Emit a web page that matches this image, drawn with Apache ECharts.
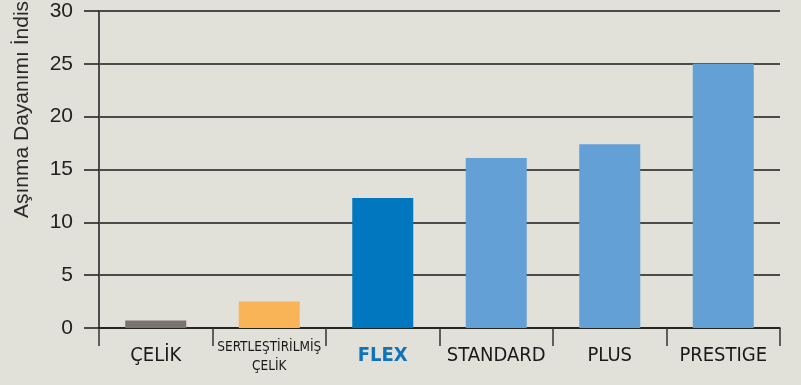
<!DOCTYPE html>
<html>
<head>
<meta charset="utf-8">
<script src="https://cdn.jsdelivr.net/npm/echarts@6/dist/echarts.min.js"></script>
<style>
  html, body { margin: 0; padding: 0; background: #e1e0d9; }
  #chart { width: 801px; height: 385px; }
</style>
</head>
<body>
<div id="chart"></div>
<script>
// ---- data ----
var categories = ['ÇELİK', 'SERTLEŞTİRİLMİŞ\nÇELİK', 'FLEX', 'STANDARD', 'PLUS', 'PRESTIGE'];
var values = [0.7, 2.5, 12.3, 16.1, 17.4, 25.0];
var barColors = ['#7b7370', '#fab458', '#0077bf', '#62a0d6', '#62a0d6', '#62a0d6'];
var yTicks = [0, 5, 10, 15, 20, 25, 30];
var yTitle = 'Aşınma Dayanımı İndisi';

var narrow = '"Liberation Sans Narrow", "DejaVu Sans Condensed", "Liberation Sans", sans-serif';
var regular = '"Liberation Sans", Arial, sans-serif';

var chart = echarts.init(document.getElementById('chart'), null, { renderer: 'canvas' });

var option = {
  backgroundColor: '#e1e0d9',
  animation: false,
  grid: { left: 99, right: 21, top: 11, bottom: 57, containLabel: false },
  graphic: [{
    type: 'text',
    x: 22.5,
    y: 218,
    rotation: Math.PI / 2,
    style: {
      text: yTitle,
      fill: '#2a2a2a',
      font: '21px ' + regular,
      textAlign: 'left',
      textVerticalAlign: 'middle'
    }
  }],
  xAxis: {
    type: 'category',
    data: categories,
    boundaryGap: true,
    axisLine: { show: true, lineStyle: { color: '#1a1a1a', width: 1.5 } },
    axisTick: { show: true, alignWithLabel: false, length: 18, lineStyle: { color: '#333', width: 1.5 } },
    axisLabel: {
      interval: 0,
      margin: 10,
      formatter: function (v) {
        if (v.indexOf('\n') >= 0) {
          return v.split('\n').map(function (s) { return '{s|' + s + '}'; }).join('\n');
        }
        if (v === 'FLEX') return '{f|' + v + '}';
        return '{n|' + v + '}';
      },
      rich: {
        n: { fontFamily: narrow, fontSize: 20, color: '#1a1a1a', lineHeight: 36 },
        f: { fontFamily: narrow, fontSize: 20, fontWeight: 'bold', color: '#0f74bd', lineHeight: 36 },
        s: { fontFamily: narrow, fontSize: 13.5, color: '#1a1a1a', lineHeight: 19 }
      }
    }
  },
  yAxis: {
    type: 'value',
    min: yTicks[0],
    max: yTicks[yTicks.length - 1],
    interval: 5,
    axisLine: { show: true, lineStyle: { color: '#4d4d4d', width: 2 } },
    axisTick: { show: true, inside: false, length: 15, lineStyle: { color: '#1a1a1a', width: 1.5 } },
    splitLine: { show: true, lineStyle: { color: '#1a1a1a', width: 1.5 } },
    axisLabel: { margin: 26, fontFamily: regular, fontSize: 21, color: '#222' }
  },
  series: [{
    type: 'bar',
    barWidth: 61,
    data: values.map(function (v, i) { return { value: v, itemStyle: { color: barColors[i] } }; })
  }]
};
chart.setOption(option);
</script>
</body>
</html>
